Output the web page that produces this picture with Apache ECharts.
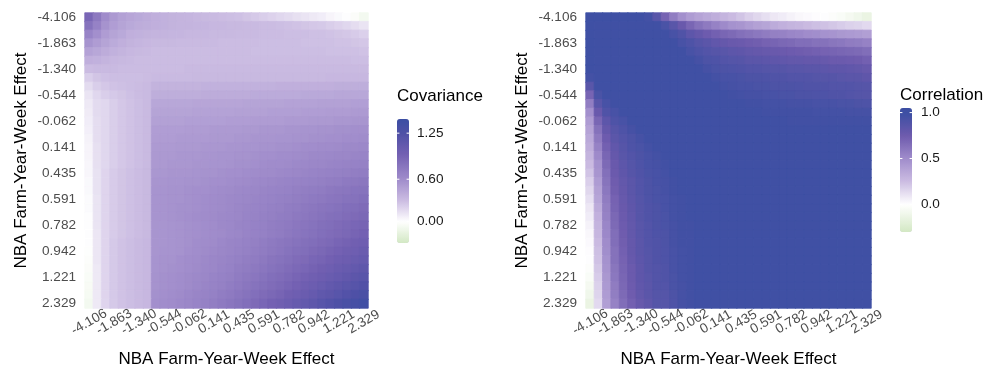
<!DOCTYPE html>
<html><head><meta charset="utf-8">
<script src="https://cdn.jsdelivr.net/npm/echarts@6/dist/echarts.min.js"></script>
<style>html,body{margin:0;padding:0;background:#fff}#c{width:987px;height:373px}</style>
</head><body><div id="c"></div>
<script>
// ---- data ----
const tickLabels = ['-4.106','-1.863','-1.340','-0.544','-0.062','0.141','0.435','0.591','0.782','0.942','1.221','2.329'];
const tickEvery = 3; // tick label every 3rd grid point (34 grid points)
const axisTitle = 'NBA Farm-Year-Week Effect';
const covTitle = 'Covariance';
const corTitle = 'Correlation';
const covBreaks = [0.00, 0.60, 1.25];
const covBreakLabels = ['0.00', '0.60', '1.25'];
const corBreaks = [0.0, 0.5, 1.0];
const corBreakLabels = ['0.0', '0.5', '1.0'];
const covLimits = [-0.30, 1.45];
const corLimits = [-0.30, 1.05];

// rows: top (-4.106) to bottom (2.329); columns: left (-4.106) to right (2.329)
const covariance = [
[.90,.75,.60,.52,.47,.44,.42,.40,.38,.37,.36,.35,.34,.33,.32,.31,.30,.29,.28,.26,.24,.22,.20,.18,.16,.14,.12,.10,.08,.05,.03,0,-.03,-.08],
[.80,.68,.56,.49,.45,.42,.40,.39,.38,.37,.36,.35,.35,.34,.34,.33,.33,.32,.32,.31,.31,.30,.30,.29,.28,.27,.26,.25,.24,.22,.20,.18,.15,.12],
[.66,.58,.50,.45,.42,.38,.37,.36,.35,.35,.34,.34,.33,.33,.33,.32,.32,.32,.31,.31,.31,.30,.30,.30,.29,.29,.29,.28,.28,.27,.26,.25,.23,.21],
[.55,.50,.45,.41,.38,.36,.34,.33,.32,.32,.32,.31,.31,.31,.31,.31,.30,.30,.30,.30,.30,.29,.29,.29,.29,.29,.28,.28,.28,.28,.27,.27,.26,.25],
[.46,.43,.40,.37,.35,.33,.32,.31,.30,.30,.30,.30,.30,.30,.30,.30,.30,.30,.30,.30,.29,.29,.29,.29,.29,.29,.29,.29,.29,.28,.28,.28,.28,.27],
[.38,.37,.35,.33,.32,.31,.30,.30,.30,.30,.30,.30,.30,.30,.30,.30,.30,.30,.30,.30,.30,.30,.30,.30,.30,.30,.30,.30,.30,.30,.30,.30,.29,.29],
[.30,.31,.31,.31,.30,.30,.30,.30,.30,.30,.30,.30,.31,.31,.31,.31,.31,.31,.31,.31,.31,.31,.31,.31,.31,.31,.31,.31,.31,.31,.31,.31,.31,.31],
[.22,.26,.28,.29,.29,.29,.29,.30,.31,.31,.31,.31,.31,.32,.32,.32,.32,.32,.32,.32,.32,.32,.32,.32,.32,.32,.32,.32,.32,.33,.33,.33,.33,.33],
[.16,.22,.25,.27,.28,.29,.30,.31,.36,.36,.36,.36,.36,.36,.37,.37,.37,.37,.37,.37,.37,.37,.37,.38,.38,.38,.38,.38,.38,.38,.39,.39,.39,.39],
[.12,.18,.22,.24,.26,.28,.30,.31,.39,.39,.39,.39,.39,.39,.40,.40,.40,.40,.40,.40,.41,.41,.41,.41,.41,.41,.42,.42,.42,.42,.43,.43,.43,.43],
[.10,.16,.18,.22,.25,.27,.29,.31,.43,.43,.43,.43,.43,.44,.44,.44,.44,.44,.44,.45,.45,.45,.45,.45,.46,.46,.46,.46,.47,.47,.47,.47,.48,.48],
[.09,.16,.18,.22,.25,.27,.29,.31,.45,.45,.45,.45,.45,.46,.46,.46,.46,.46,.47,.47,.47,.47,.48,.48,.48,.48,.49,.49,.49,.50,.50,.50,.51,.51],
[.08,.15,.18,.22,.25,.27,.29,.31,.47,.47,.47,.47,.48,.48,.48,.48,.48,.49,.49,.49,.50,.50,.50,.50,.51,.51,.51,.52,.52,.52,.53,.53,.54,.54],
[.07,.15,.18,.22,.25,.27,.29,.31,.49,.49,.49,.49,.50,.50,.50,.51,.51,.51,.51,.52,.52,.53,.53,.53,.54,.54,.55,.55,.56,.56,.57,.57,.58,.58],
[.06,.15,.18,.22,.25,.27,.29,.31,.50,.50,.50,.51,.51,.51,.51,.52,.52,.52,.53,.53,.54,.54,.54,.55,.55,.56,.56,.57,.57,.58,.58,.59,.59,.60],
[.05,.14,.18,.22,.25,.27,.29,.31,.51,.51,.51,.52,.52,.52,.53,.53,.53,.54,.54,.55,.55,.56,.56,.57,.57,.58,.59,.59,.60,.60,.61,.62,.62,.63],
[.05,.14,.18,.22,.25,.27,.29,.31,.52,.52,.52,.53,.53,.53,.54,.54,.55,.55,.56,.56,.57,.58,.58,.59,.59,.60,.61,.62,.62,.63,.64,.64,.65,.66],
[.04,.14,.18,.22,.25,.27,.29,.31,.52,.52,.53,.53,.53,.54,.54,.55,.55,.56,.57,.57,.58,.59,.60,.60,.61,.62,.63,.64,.64,.65,.66,.67,.68,.69],
[.04,.13,.19,.23,.26,.28,.30,.32,.53,.53,.54,.54,.54,.55,.56,.56,.57,.58,.58,.59,.60,.61,.61,.62,.63,.64,.65,.66,.67,.68,.69,.70,.71,.72],
[.03,.13,.19,.23,.26,.28,.30,.32,.54,.54,.55,.55,.56,.56,.57,.58,.58,.59,.60,.61,.62,.63,.64,.65,.66,.67,.68,.69,.70,.71,.72,.74,.75,.76],
[.03,.13,.19,.23,.26,.28,.30,.32,.55,.55,.56,.56,.57,.58,.58,.59,.60,.61,.62,.63,.64,.65,.66,.67,.68,.70,.71,.72,.73,.75,.76,.77,.79,.80],
[.02,.12,.19,.23,.26,.28,.30,.32,.55,.55,.56,.56,.57,.58,.59,.60,.61,.62,.63,.64,.65,.66,.67,.69,.70,.71,.73,.74,.75,.77,.78,.80,.81,.83],
[.02,.12,.19,.23,.26,.28,.30,.32,.55,.55,.56,.57,.57,.58,.59,.60,.61,.62,.64,.65,.66,.67,.69,.70,.72,.73,.75,.76,.78,.79,.81,.83,.84,.86],
[.01,.12,.19,.23,.26,.28,.30,.32,.55,.55,.56,.57,.58,.59,.60,.61,.62,.63,.64,.66,.67,.69,.70,.72,.73,.75,.76,.78,.80,.82,.83,.85,.87,.89],
[.01,.12,.19,.23,.26,.28,.30,.32,.54,.54,.55,.56,.57,.58,.59,.60,.62,.63,.65,.66,.68,.69,.71,.73,.74,.76,.78,.80,.82,.84,.86,.88,.90,.92],
[0,.11,.19,.23,.26,.28,.30,.32,.54,.54,.55,.56,.57,.58,.59,.60,.61,.63,.64,.66,.68,.69,.71,.73,.75,.77,.79,.81,.83,.85,.87,.89,.92,.94],
[0,.11,.19,.24,.27,.29,.31,.33,.54,.54,.55,.56,.57,.59,.60,.61,.63,.65,.66,.68,.70,.72,.74,.76,.78,.80,.82,.84,.86,.88,.91,.93,.96,.98],
[-.01,.11,.19,.24,.27,.29,.31,.33,.54,.55,.55,.56,.58,.59,.61,.62,.64,.65,.67,.69,.71,.73,.75,.77,.80,.82,.84,.87,.89,.92,.94,.97,.99,1.02],
[-.02,.11,.19,.24,.27,.29,.31,.33,.55,.56,.56,.58,.59,.60,.62,.64,.65,.67,.69,.71,.73,.75,.78,.80,.82,.85,.87,.90,.92,.95,.98,1.00,1.03,1.06],
[-.03,.10,.19,.24,.27,.29,.31,.33,.55,.56,.57,.58,.59,.61,.63,.64,.66,.68,.71,.73,.75,.77,.80,.82,.85,.88,.90,.93,.96,.99,1.02,1.05,1.08,1.11],
[-.04,.10,.19,.24,.27,.29,.31,.33,.56,.57,.58,.59,.61,.62,.64,.66,.68,.70,.73,.75,.77,.80,.83,.85,.88,.91,.94,.97,1.00,1.03,1.06,1.09,1.13,1.16],
[-.05,.10,.19,.24,.27,.29,.31,.33,.56,.57,.58,.59,.61,.63,.65,.67,.69,.72,.74,.77,.80,.82,.85,.88,.91,.94,.98,1.01,1.04,1.08,1.11,1.15,1.18,1.22],
[-.06,.10,.19,.24,.27,.29,.31,.33,.57,.58,.59,.61,.63,.65,.67,.69,.72,.74,.77,.80,.83,.86,.89,.92,.96,.99,1.02,1.06,1.10,1.13,1.17,1.21,1.25,1.29],
[-.08,.10,.19,.24,.27,.29,.31,.33,.58,.59,.60,.62,.64,.66,.69,.71,.74,.77,.80,.83,.87,.90,.94,.97,1.01,1.05,1.08,1.12,1.17,1.21,1.25,1.29,1.34,1.38]
];

const correlation = [
[.98,.98,.98,.98,.98,.98,.98,.95,.85,.70,.57,.48,.42,.38,.35,.32,.29,.26,.22,.18,.15,.12,.09,.07,.05,.03,.02,.01,0,-.02,-.04,-.07,-.10,-.14],
[.98,.97,.97,.97,.97,.97,.97,.97,.97,.92,.85,.77,.69,.63,.59,.55,.51,.47,.45,.42,.39,.37,.34,.31,.29,.28,.26,.24,.23,.21,.19,.17,.16,.14],
[.98,.97,.97,.97,.97,.97,.97,.97,.97,.97,.93,.89,.83,.79,.75,.72,.69,.67,.64,.62,.60,.58,.56,.55,.53,.52,.50,.49,.47,.46,.44,.43,.42,.40],
[.98,.97,.97,.97,.97,.97,.97,.97,.97,.97,.97,.93,.90,.86,.84,.81,.79,.77,.76,.74,.73,.71,.70,.68,.67,.65,.65,.63,.63,.61,.60,.58,.57,.55],
[.98,.97,.97,.97,.97,.97,.97,.97,.97,.97,.97,.97,.93,.90,.88,.86,.85,.83,.82,.80,.79,.78,.77,.76,.75,.74,.73,.72,.71,.70,.69,.68,.67,.65],
[.98,.97,.97,.97,.97,.97,.97,.97,.97,.97,.97,.97,.97,.94,.91,.90,.88,.87,.86,.84,.84,.83,.82,.81,.80,.80,.79,.79,.78,.76,.76,.75,.74,.72],
[.98,.97,.97,.97,.97,.97,.97,.97,.97,.97,.97,.97,.97,.97,.94,.92,.91,.90,.89,.88,.88,.87,.86,.86,.85,.85,.84,.84,.83,.82,.82,.81,.80,.78],
[.95,.97,.97,.97,.97,.97,.97,.97,.97,.97,.97,.97,.97,.97,.97,.95,.93,.93,.92,.91,.91,.90,.89,.89,.88,.88,.88,.87,.86,.86,.85,.84,.84,.82],
[.85,.97,.97,.97,.97,.97,.97,.97,.97,.97,.97,.97,.97,.97,.97,.97,.95,.94,.93,.93,.92,.92,.91,.91,.91,.90,.89,.89,.89,.88,.88,.88,.87,.86],
[.70,.92,.97,.97,.97,.97,.97,.97,.97,.97,.97,.97,.97,.97,.97,.97,.97,.96,.95,.94,.94,.93,.93,.92,.92,.91,.91,.90,.90,.89,.89,.88,.87,.86],
[.57,.85,.93,.97,.97,.97,.97,.97,.97,.97,.97,.97,.97,.97,.97,.97,.97,.97,.97,.96,.96,.95,.95,.95,.94,.94,.94,.93,.93,.93,.92,.92,.91,.90],
[.48,.77,.89,.93,.97,.97,.97,.97,.97,.97,.97,.97,.97,.97,.97,.97,.97,.97,.97,.97,.97,.96,.96,.96,.96,.96,.96,.95,.95,.95,.95,.94,.94,.94],
[.42,.69,.83,.90,.93,.97,.97,.97,.97,.97,.97,.97,.97,.97,.97,.97,.97,.97,.97,.97,.97,.97,.97,.97,.96,.96,.96,.96,.96,.96,.96,.96,.96,.96],
[.38,.63,.79,.86,.90,.94,.97,.97,.97,.97,.97,.97,.97,.97,.97,.97,.97,.97,.97,.97,.97,.97,.97,.97,.97,.97,.97,.97,.97,.97,.97,.97,.97,.97],
[.35,.59,.75,.84,.88,.91,.94,.97,.97,.97,.97,.97,.97,.97,.97,.97,.97,.97,.97,.97,.97,.97,.97,.97,.97,.97,.97,.97,.97,.97,.97,.97,.97,.97],
[.32,.55,.72,.81,.86,.90,.92,.95,.97,.97,.97,.97,.97,.97,.97,.97,.97,.97,.97,.97,.97,.97,.97,.97,.97,.97,.97,.97,.97,.97,.97,.97,.97,.97],
[.29,.51,.69,.79,.85,.88,.91,.93,.95,.97,.97,.97,.97,.97,.97,.97,.97,.97,.97,.97,.97,.97,.97,.97,.97,.97,.97,.97,.97,.97,.97,.97,.97,.97],
[.26,.47,.67,.77,.83,.87,.90,.93,.94,.96,.97,.97,.97,.97,.97,.97,.97,.97,.97,.97,.97,.97,.97,.97,.97,.97,.97,.97,.97,.97,.97,.97,.97,.97],
[.22,.45,.64,.76,.82,.86,.89,.92,.93,.95,.97,.97,.97,.97,.97,.97,.97,.97,.97,.97,.97,.97,.97,.97,.97,.97,.97,.97,.97,.97,.97,.97,.97,.97],
[.18,.42,.62,.74,.80,.84,.88,.91,.93,.94,.96,.97,.97,.97,.97,.97,.97,.97,.97,.97,.97,.97,.97,.97,.97,.97,.97,.97,.97,.97,.97,.97,.97,.97],
[.15,.39,.60,.73,.79,.84,.88,.91,.92,.94,.96,.97,.97,.97,.97,.97,.97,.97,.97,.97,.97,.97,.97,.97,.97,.97,.97,.97,.97,.97,.97,.97,.97,.97],
[.12,.37,.58,.71,.78,.83,.87,.90,.92,.93,.95,.96,.97,.97,.97,.97,.97,.97,.97,.97,.97,.97,.97,.97,.97,.97,.97,.97,.97,.97,.97,.97,.97,.97],
[.09,.34,.56,.70,.77,.82,.86,.89,.91,.93,.95,.96,.97,.97,.97,.97,.97,.97,.97,.97,.97,.97,.97,.97,.97,.97,.97,.97,.97,.97,.97,.97,.97,.97],
[.07,.31,.55,.68,.76,.81,.86,.89,.91,.92,.95,.96,.97,.97,.97,.97,.97,.97,.97,.97,.97,.97,.97,.97,.97,.97,.97,.97,.97,.97,.97,.97,.97,.97],
[.05,.29,.53,.67,.75,.80,.85,.88,.91,.92,.94,.96,.96,.97,.97,.97,.97,.97,.97,.97,.97,.97,.97,.97,.97,.97,.97,.97,.97,.97,.97,.97,.97,.97],
[.03,.28,.52,.65,.74,.80,.85,.88,.90,.91,.94,.96,.96,.97,.97,.97,.97,.97,.97,.97,.97,.97,.97,.97,.97,.97,.97,.97,.97,.97,.97,.97,.97,.97],
[.02,.26,.50,.65,.73,.79,.84,.88,.89,.91,.94,.96,.96,.97,.97,.97,.97,.97,.97,.97,.97,.97,.97,.97,.97,.97,.97,.97,.97,.97,.97,.97,.97,.97],
[.01,.24,.49,.63,.72,.79,.84,.87,.89,.90,.93,.95,.96,.97,.97,.97,.97,.97,.97,.97,.97,.97,.97,.97,.97,.97,.97,.97,.97,.97,.97,.97,.97,.97],
[0,.23,.47,.63,.71,.78,.83,.86,.89,.90,.93,.95,.96,.97,.97,.97,.97,.97,.97,.97,.97,.97,.97,.97,.97,.97,.97,.97,.97,.97,.97,.97,.97,.97],
[-.02,.21,.46,.61,.70,.76,.82,.86,.88,.89,.93,.95,.96,.97,.97,.97,.97,.97,.97,.97,.97,.97,.97,.97,.97,.97,.97,.97,.97,.97,.97,.97,.97,.97],
[-.04,.19,.44,.60,.69,.76,.82,.85,.88,.89,.92,.95,.96,.97,.97,.97,.97,.97,.97,.97,.97,.97,.97,.97,.97,.97,.97,.97,.97,.97,.97,.97,.97,.97],
[-.07,.17,.43,.58,.68,.75,.81,.84,.88,.88,.92,.94,.96,.97,.97,.97,.97,.97,.97,.97,.97,.97,.97,.97,.97,.97,.97,.97,.97,.97,.97,.97,.97,.97],
[-.10,.16,.42,.57,.67,.74,.80,.84,.87,.87,.91,.94,.96,.97,.97,.97,.97,.97,.97,.97,.97,.97,.97,.97,.97,.97,.97,.97,.97,.97,.97,.97,.97,.97],
[-.14,.14,.40,.55,.65,.72,.78,.82,.86,.86,.90,.94,.96,.97,.97,.97,.97,.97,.97,.97,.97,.97,.97,.97,.97,.97,.97,.97,.97,.97,.97,.97,.97,.97]
];

// ---- styling ----
const FONT = '"Liberation Sans", Arial, Helvetica, sans-serif';
const covStops = [[-0.30,'#d3e8c4'],[0,'#ffffff'],[0.30,'#cbbce2'],[0.60,'#a08ccb'],[0.95,'#7360b2'],[1.25,'#4e50a6'],[1.45,'#3b4ea3']];
const corStops = [[-0.30,'#d3e8c4'],[0,'#ffffff'],[0.25,'#cbbce2'],[0.50,'#a08ccb'],[0.75,'#6d5aad'],[0.97,'#4050a4'],[1.05,'#3b4ea3']];

function hex2rgb(h){return [1,3,5].map(i=>parseInt(h.slice(i,i+2),16));}
function rgb2hex(c){return '#'+c.map(v=>Math.round(v).toString(16).padStart(2,'0')).join('');}
function colorAt(stops, v){
  let s=0; while(s<stops.length-2 && v>stops[s+1][0]) s++;
  const a=stops[s], b=stops[s+1];
  const t=Math.max(0,Math.min(1,(v-a[0])/(b[0]-a[0])));
  const ca=hex2rgb(a[1]), cb=hex2rgb(b[1]);
  return rgb2hex(ca.map((x,i)=>x+(cb[i]-x)*t));
}
function ramp(stops, lo, hi, n){
  const out=[];
  for(let k=0;k<n;k++) out.push(colorAt(stops, lo+(hi-lo)*k/(n-1)));
  return out;
}

const cells = covariance[0].map((_, j) => String(j));
// heatmap items; a thin border in the cell's own colour hides anti-aliasing seams
function toData(m, stops){
  const d=[];
  m.forEach((row,i)=>row.forEach((v,j)=>d.push({value:[j,i,v], itemStyle:{borderColor:colorAt(stops,v), borderWidth:0.8}})));
  return d;
}

const grids = [
  {left:85, top:13, width:283, height:295},
  {left:586, top:13, width:285, height:295}
];
const bars = [
  {x:397, top:119, h:124, w:12, lim:covLimits, breaks:covBreaks, labels:covBreakLabels, title:covTitle, titleY:97, labelX:417},
  {x:900, top:108, h:124, w:12, lim:corLimits, breaks:corBreaks, labels:corBreakLabels, title:corTitle, titleY:96, labelX:921}
];
const tickText = (v,i) => (i % tickEvery === 0 ? tickLabels[i / tickEvery] : '');

function xAxisFor(g){
  return {gridIndex:g, type:'category', data:cells, boundaryGap:true,
    axisLine:{show:false}, axisTick:{show:false}, splitLine:{show:false},
    axisLabel:{interval:0, formatter:tickText, hideOverlap:false,
      rotate:30, align:'center', verticalAlign:'middle', margin:14, fontSize:13.6, color:'#4d4d4d', fontFamily:FONT},
    name:axisTitle, nameLocation:'middle', nameGap:43,
    nameTextStyle:{fontSize:17, color:'#000', fontFamily:FONT}};
}
function yAxisFor(g){
  return {gridIndex:g, type:'category', data:cells, inverse:true, boundaryGap:true,
    axisLine:{show:false}, axisTick:{show:false}, splitLine:{show:false},
    axisLabel:{interval:0, formatter:tickText, hideOverlap:false,
      margin:9, fontSize:13.6, color:'#4d4d4d', fontFamily:FONT},
    name:axisTitle, nameLocation:'middle', nameGap:55,
    nameTextStyle:{fontSize:17, color:'#000', fontFamily:FONT}};
}

const graphic = [];
bars.forEach(b=>{
  graphic.push({type:'text', left:b.x, top:b.titleY-9, style:{text:b.title, font:'17px '+FONT, fill:'#000'}});
  b.breaks.forEach((v,k)=>{
    const y = b.top + (b.lim[1]-v)/(b.lim[1]-b.lim[0])*b.h;
    graphic.push({type:'text', x:b.labelX, y:y, style:{text:b.labels[k], font:'13.6px '+FONT, fill:'#1a1a1a', textVerticalAlign:'middle', textAlign:'left'}});
    graphic.push({type:'line', shape:{x1:b.x, y1:y, x2:b.x+2.4, y2:y}, style:{stroke:'#ffffff', lineWidth:1}, z:100});
    graphic.push({type:'line', shape:{x1:b.x+b.w-2.4, y1:y, x2:b.x+b.w, y2:y}, style:{stroke:'#ffffff', lineWidth:1}, z:100});
  });
});

const option = {
  animation:false,
  backgroundColor:'#ffffff',
  textStyle:{fontFamily:FONT},
  grid:grids,
  xAxis:[xAxisFor(0), xAxisFor(1)],
  yAxis:[yAxisFor(0), yAxisFor(1)],
  visualMap:[
    {type:'continuous', seriesIndex:0, min:covLimits[0], max:covLimits[1], orient:'vertical',
     left:bars[0].x, top:bars[0].top, itemWidth:bars[0].w, itemHeight:bars[0].h, padding:0,
     calculable:false, text:null, hoverLink:false, inRange:{color:ramp(covStops, covLimits[0], covLimits[1], 80)}},
    {type:'continuous', seriesIndex:1, min:corLimits[0], max:corLimits[1], orient:'vertical',
     left:bars[1].x, top:bars[1].top, itemWidth:bars[1].w, itemHeight:bars[1].h, padding:0,
     calculable:false, text:null, hoverLink:false, inRange:{color:ramp(corStops, corLimits[0], corLimits[1], 80)}}
  ],
  series:[
    {type:'heatmap', xAxisIndex:0, yAxisIndex:0, data:toData(covariance, covStops), progressive:0},
    {type:'heatmap', xAxisIndex:1, yAxisIndex:1, data:toData(correlation, corStops), progressive:0}
  ],
  graphic:graphic
};
const chart = echarts.init(document.getElementById('c'), null, {renderer:'canvas'});
chart.setOption(option);
</script>
</body></html>
